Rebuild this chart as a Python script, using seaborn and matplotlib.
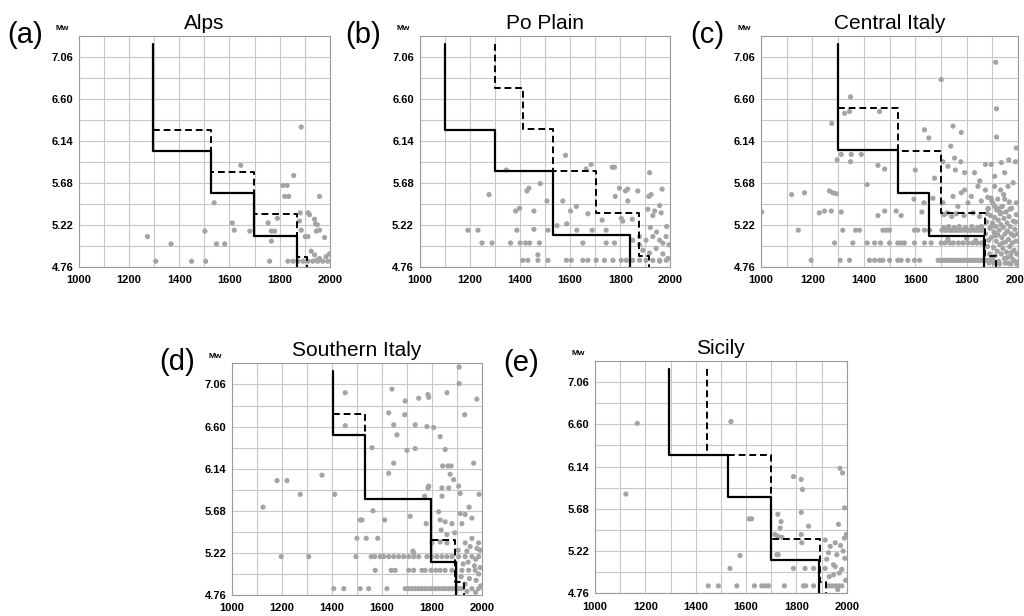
import pandas as pd
import seaborn as sns
import matplotlib.pyplot as plt

# Catalogue events (year, Mw)
alps_quakes = [
    (1886, 6.29), (1645, 5.87), (1856, 5.76), (1813, 5.65), (1830, 5.65),
    (1820, 5.53), (1836, 5.53), (1959, 5.53), (1539, 5.46), (1882, 5.35),
    (1913, 5.35), (1919, 5.33), (1939, 5.28), (1943, 5.23), (1950, 5.22),
    (1754, 5.24), (1791, 5.29), (1611, 5.24), (1619, 5.16), (1502, 5.15),
    (1681, 5.15), (1767, 5.15), (1780, 5.15), (1913, 5.09), (1946, 5.15),
    (1959, 5.16), (1979, 5.08), (1273, 5.09), (1767, 5.04), (1367, 5.01),
    (1548, 5.01), (1581, 5.01), (1902, 5.09), (1879, 5.26), (1886, 5.16),
    (1306, 4.82), (1449, 4.82), (1505, 4.82), (1760, 4.82), (1833, 4.82),
    (1853, 4.82), (1873, 4.82), (1893, 4.82), (1913, 4.82), (1932, 4.82),
    (1952, 4.82), (1972, 4.82), (1992, 4.82), (1926, 4.93), (1939, 4.89),
    (1959, 4.85), (1946, 4.83), (1985, 4.87), (1998, 4.90),
]

po_quakes = [
    (1582, 5.98), (1684, 5.88), (1664, 5.83), (1768, 5.85), (1777, 5.85),
    (1917, 5.79), (1346, 5.82), (1481, 5.67), (1436, 5.62), (1428, 5.59),
    (1277, 5.55), (1508, 5.48), (1571, 5.48), (1625, 5.42), (1399, 5.40),
    (1383, 5.37), (1456, 5.37), (1602, 5.37), (1671, 5.34), (1728, 5.27),
    (1780, 5.53), (1797, 5.62), (1821, 5.59), (1830, 5.61), (1870, 5.59),
    (1830, 5.48), (1923, 5.55), (1914, 5.53), (1967, 5.61), (1804, 5.29),
    (1810, 5.26), (1848, 5.28), (1910, 5.39), (1937, 5.37), (1963, 5.35),
    (1930, 5.32), (1957, 5.43), (1744, 5.16), (1193, 5.16), (1233, 5.16),
    (1388, 5.16), (1456, 5.17), (1512, 5.16), (1627, 5.16), (1688, 5.16),
    (1548, 5.21), (1587, 5.23), (1249, 5.02), (1289, 5.02), (1363, 5.02),
    (1401, 5.02), (1423, 5.02), (1439, 5.02), (1478, 5.02), (1651, 5.02),
    (1744, 5.02), (1777, 5.02), (1850, 5.05), (1877, 5.09), (1903, 5.05),
    (1930, 5.09), (1957, 5.05), (1983, 5.09), (1970, 5.02), (1994, 5.00),
    (1472, 4.89), (1412, 4.83), (1432, 4.83), (1472, 4.83), (1512, 4.83),
    (1585, 4.83), (1605, 4.83), (1651, 4.83), (1671, 4.83), (1704, 4.83),
    (1737, 4.83), (1771, 4.83), (1804, 4.83), (1824, 4.83), (1850, 4.83),
    (1877, 4.83), (1903, 4.83), (1930, 4.83), (1957, 4.83), (1983, 4.83),
    (1890, 4.94), (1917, 4.91), (1943, 4.96), (1970, 4.90), (1990, 4.85),
    (1877, 5.00), (1957, 4.82), (1945, 5.14), (1985, 5.20), (1920, 5.19),
]

central_quakes = [
    (1913, 7.00), (1701, 6.81), (1348, 6.62), (1325, 6.44), (1344, 6.46),
    (1461, 6.46), (1916, 6.49), (1275, 6.33), (1636, 6.26), (1747, 6.30),
    (1653, 6.17), (1779, 6.23), (1916, 6.18), (1738, 6.08), (1993, 6.06),
    (1312, 5.99), (1351, 5.99), (1390, 5.99), (1348, 5.91), (1296, 5.93),
    (1455, 5.87), (1481, 5.83), (1600, 5.82), (1675, 5.73), (1753, 5.95),
    (1777, 5.91), (1708, 5.91), (1727, 5.86), (1756, 5.82), (1792, 5.79),
    (1831, 5.79), (1851, 5.70), (1873, 5.88), (1896, 5.88), (1935, 5.90),
    (1964, 5.93), (1990, 5.91), (1909, 5.75), (1948, 5.79), (1981, 5.68),
    (1909, 5.64), (1932, 5.60), (1961, 5.64), (1844, 5.64), (1873, 5.60),
    (1792, 5.60), (1818, 5.53), (1857, 5.48), (1896, 5.51), (1948, 5.50),
    (1883, 5.39), (1909, 5.42), (1935, 5.35), (1968, 5.39), (1993, 5.46),
    (1413, 5.66), (1119, 5.55), (1169, 5.57), (1266, 5.59), (1279, 5.57),
    (1292, 5.56), (1595, 5.50), (1634, 5.46), (1669, 5.51), (1227, 5.35),
    (1247, 5.37), (1273, 5.37), (1312, 5.36), (1455, 5.32), (1481, 5.37),
    (1526, 5.37), (1545, 5.32), (1626, 5.36), (1003, 5.36), (1708, 5.46),
    (1766, 5.42), (1805, 5.46), (1747, 5.53), (1779, 5.57), (1712, 5.33),
    (1725, 5.35), (1742, 5.31), (1760, 5.34), (1790, 5.32), (1825, 5.35),
    (1850, 5.31),
    (1145, 5.16), (1318, 5.16), (1368, 5.16), (1383, 5.16), (1474, 5.16),
    (1487, 5.16), (1500, 5.16), (1597, 5.16), (1610, 5.16), (1636, 5.16),
    (1656, 5.16), (1704, 5.16), (1713, 5.16), (1721, 5.16), (1732, 5.16),
    (1740, 5.16), (1749, 5.16), (1758, 5.16), (1765, 5.16), (1776, 5.16),
    (1784, 5.16), (1793, 5.16), (1801, 5.16), (1810, 5.16), (1817, 5.16),
    (1828, 5.16), (1836, 5.16), (1845, 5.16), (1853, 5.16), (1862, 5.16),
    (1710, 5.19), (1730, 5.20), (1752, 5.19), (1771, 5.20), (1795, 5.19),
    (1820, 5.20), (1842, 5.19), (1858, 5.20),
    (1286, 5.02), (1357, 5.02), (1413, 5.02), (1442, 5.02), (1465, 5.02),
    (1500, 5.02), (1532, 5.02), (1545, 5.02), (1558, 5.02), (1597, 5.02),
    (1636, 5.02), (1662, 5.02), (1701, 5.02), (1716, 5.02), (1735, 5.02),
    (1748, 5.02), (1768, 5.02), (1786, 5.02), (1805, 5.02), (1823, 5.02),
    (1840, 5.02), (1857, 5.02), (1727, 5.06), (1800, 5.07), (1835, 5.05),
    (1195, 4.83), (1308, 4.83), (1344, 4.83), (1422, 4.83), (1442, 4.83),
    (1461, 4.83), (1474, 4.83), (1500, 4.83), (1532, 4.83), (1545, 4.83),
    (1571, 4.83), (1597, 4.83), (1617, 4.83), (1689, 4.83), (1697, 4.83),
    (1706, 4.83), (1716, 4.83), (1724, 4.83), (1733, 4.83), (1743, 4.83),
    (1751, 4.83), (1760, 4.83), (1769, 4.83), (1778, 4.83), (1787, 4.83),
    (1795, 4.83), (1805, 4.83), (1813, 4.83), (1822, 4.83), (1831, 4.83),
    (1840, 4.83), (1848, 4.83), (1857, 4.83), (1866, 4.83), (1875, 4.83),
    (1884, 4.83), (1893, 4.83), (1902, 4.83),
    (1874, 5.12), (1878, 5.25), (1881, 4.98), (1884, 5.40), (1886, 5.05),
    (1889, 4.90), (1891, 5.18), (1893, 5.32), (1896, 5.08), (1898, 4.86),
    (1901, 5.24), (1903, 5.45), (1905, 4.97), (1907, 5.14), (1909, 5.30),
    (1911, 4.88), (1913, 5.20), (1915, 5.04), (1917, 5.38), (1919, 4.93),
    (1921, 5.11), (1923, 5.27), (1925, 4.82), (1927, 5.16), (1929, 5.00),
    (1931, 5.34), (1933, 5.22), (1935, 4.90), (1937, 5.08), (1939, 5.42),
    (1941, 4.96), (1943, 5.19), (1945, 5.29), (1947, 4.85), (1949, 5.12),
    (1951, 5.03), (1953, 5.36), (1955, 4.92), (1957, 5.24), (1959, 5.15),
    (1961, 4.80), (1963, 5.06), (1965, 5.31), (1967, 4.98), (1969, 5.20),
    (1971, 4.88), (1973, 5.12), (1975, 5.40), (1977, 5.02), (1979, 4.84),
    (1981, 5.26), (1983, 5.10), (1985, 4.94), (1987, 5.17), (1989, 4.82),
    (1991, 5.04), (1993, 5.33), (1995, 4.90), (1997, 5.12), (1882, 5.52),
    (1898, 5.48), (1921, 5.50), (1944, 5.55), (1966, 5.47), (1887, 4.80),
    (1906, 4.80), (1928, 4.79), (1950, 4.80), (1972, 4.79), (1995, 4.79),
    (1880, 5.34), (1895, 5.20), (1912, 5.10), (1926, 5.40), (1940, 5.02),
    (1958, 4.86), (1975, 4.92), (1990, 5.25),
]

southern_quakes = [
    (1909, 7.25), (1640, 7.01), (1909, 7.07), (1453, 6.97), (1784, 6.95),
    (1787, 6.92), (1747, 6.91), (1860, 6.97), (1693, 6.88), (1980, 6.90),
    (1627, 6.75), (1691, 6.73), (1931, 6.73), (1453, 6.61), (1647, 6.62),
    (1733, 6.62), (1780, 6.60), (1807, 6.59), (1660, 6.51), (1833, 6.49),
    (1560, 6.37), (1700, 6.34), (1733, 6.36), (1853, 6.35), (1647, 6.20),
    (1843, 6.17), (1864, 6.17), (1877, 6.17), (1967, 6.20), (1627, 6.09),
    (1360, 6.07), (1180, 6.01), (1220, 6.01), (1873, 6.08), (1887, 6.02),
    (1787, 5.95), (1784, 5.93), (1840, 5.93), (1867, 5.93), (1907, 5.95),
    (1273, 5.86), (1411, 5.86), (1771, 5.84), (1840, 5.84), (1913, 5.87),
    (1989, 5.86), (1124, 5.72), (1564, 5.68), (1713, 5.62), (1827, 5.67),
    (1949, 5.72), (1913, 5.65), (1933, 5.64), (1960, 5.60), (1513, 5.58),
    (1520, 5.58), (1611, 5.58), (1777, 5.54), (1833, 5.58), (1853, 5.56),
    (1880, 5.54), (1920, 5.54), (1837, 5.47), (1860, 5.42), (1891, 5.44),
    (1500, 5.38), (1537, 5.38), (1583, 5.38), (1800, 5.33), (1833, 5.34),
    (1860, 5.33), (1960, 5.38), (1987, 5.33), (1933, 5.33), (1953, 5.29),
    (1980, 5.27), (1993, 5.25), (1727, 5.22), (1724, 5.24),
    (1197, 5.18), (1307, 5.18), (1496, 5.18), (1557, 5.18), (1571, 5.18),
    (1593, 5.18), (1607, 5.18), (1627, 5.18), (1647, 5.18), (1667, 5.18),
    (1687, 5.18), (1707, 5.18), (1727, 5.18), (1747, 5.18), (1780, 5.18),
    (1800, 5.18), (1820, 5.18), (1840, 5.18), (1860, 5.18), (1880, 5.18),
    (1907, 5.18), (1933, 5.18), (1960, 5.18), (1987, 5.18),
    (1573, 5.03), (1637, 5.03), (1653, 5.03), (1707, 5.03), (1727, 5.03),
    (1760, 5.03), (1773, 5.03), (1797, 5.03), (1816, 5.03), (1833, 5.03),
    (1853, 5.03), (1880, 5.03), (1920, 5.03), (1947, 5.03), (1973, 5.03),
    (1917, 4.96), (1950, 4.94), (1977, 4.92), (1933, 4.88), (1987, 4.99),
    (1925, 5.10), (1945, 5.12), (1970, 5.08), (1993, 5.06), (1905, 5.25),
    (1940, 5.24), (1975, 5.15),
    (1407, 4.83), (1447, 4.83), (1513, 4.83), (1547, 4.83), (1620, 4.83),
    (1693, 4.83), (1707, 4.83), (1720, 4.83), (1733, 4.83), (1747, 4.83),
    (1760, 4.83), (1773, 4.83), (1787, 4.83), (1800, 4.83), (1813, 4.83),
    (1827, 4.83), (1840, 4.83), (1853, 4.83), (1867, 4.83), (1880, 4.83),
    (1893, 4.83), (1907, 4.83), (1920, 4.83), (1960, 4.83), (1987, 4.83),
    (1940, 4.80), (1975, 4.79), (1995, 4.86),
]

sicily_quakes = [
    (1168, 6.61), (1540, 6.63), (1123, 5.84), (1788, 6.03), (1819, 6.00),
    (1824, 5.89), (1973, 6.12), (1983, 6.07), (1612, 5.57), (1622, 5.57),
    (1726, 5.62), (1739, 5.54), (1819, 5.64), (1848, 5.49), (1967, 5.51),
    (1991, 5.69), (1735, 5.47), (1715, 5.40), (1726, 5.38), (1742, 5.37),
    (1819, 5.40), (1821, 5.31), (1914, 5.34), (1934, 5.27), (1954, 5.31),
    (1927, 5.20), (1960, 5.18), (1920, 5.13), (1947, 5.07), (1722, 5.18),
    (1728, 5.18), (1576, 5.17), (1536, 5.03), (1788, 5.03), (1834, 5.03),
    (1868, 5.03), (1914, 5.03), (1954, 5.05), (1980, 5.02), (1450, 4.84),
    (1490, 4.84), (1563, 4.84), (1633, 4.84), (1662, 4.84), (1675, 4.84),
    (1689, 4.84), (1752, 4.84), (1828, 4.84), (1837, 4.84), (1868, 4.84),
    (1927, 4.84), (1940, 4.84), (1954, 4.84), (1967, 4.84), (1980, 4.84),
    (1930, 4.94), (1947, 4.96), (1964, 4.80), (1975, 5.28), (1990, 5.36),
    (1998, 5.40), (1985, 5.22), (1992, 5.14), (1970, 4.98), (1995, 4.90),
]

# Completeness thresholds: breakpoint years and Mw levels (drawn as steps)
alps_solid_x = [1297, 1297, 1527, 1698, 1869]
alps_solid_y = [7.20, 6.03, 5.57, 5.10, 4.76]
alps_dash_x = [1297, 1527, 1698, 1869, 1910]
alps_dash_y = [6.26, 5.80, 5.34, 4.87, 4.76]

po_solid_x = [1101, 1101, 1299, 1532, 1840]
po_solid_y = [7.20, 6.26, 5.81, 5.11, 4.76]
po_dash_x = [1299, 1299, 1413, 1532, 1702, 1874, 1914]
po_dash_y = [7.20, 6.72, 6.27, 5.81, 5.35, 4.88, 4.76]

central_solid_x = [1301, 1301, 1532, 1652, 1868]
central_solid_y = [7.20, 6.04, 5.57, 5.10, 4.76]
central_dash_x = [1301, 1532, 1701, 1870, 1916]
central_dash_y = [6.50, 6.03, 5.35, 4.88, 4.76]

southern_solid_x = [1403, 1403, 1531, 1795, 1897]
southern_solid_y = [7.21, 6.51, 5.81, 5.12, 4.76]
southern_dash_x = [1403, 1531, 1795, 1892, 1927]
southern_dash_y = [6.74, 5.81, 5.36, 4.90, 4.76]

sicily_solid_x = [1294, 1294, 1527, 1698, 1890]
sicily_solid_y = [7.20, 6.27, 5.81, 5.12, 4.76]
sicily_dash_x = [1445, 1445, 1698, 1894, 1917]
sicily_dash_y = [7.20, 6.27, 5.35, 4.88, 4.76]

titles = ["Alps", "Po Plain", "Central Italy", "Southern Italy", "Sicily"]
letters = ["(a)", "(b)", "(c)", "(d)", "(e)"]
mw_ticks = [4.76, 5.22, 5.68, 6.14, 6.60, 7.06]
mw_minor = [4.99, 5.45, 5.91, 6.37, 6.83]

panels = [
    (alps_quakes, alps_solid_x, alps_solid_y, alps_dash_x, alps_dash_y),
    (po_quakes, po_solid_x, po_solid_y, po_dash_x, po_dash_y),
    (central_quakes, central_solid_x, central_solid_y, central_dash_x, central_dash_y),
    (southern_quakes, southern_solid_x, southern_solid_y, southern_dash_x, southern_dash_y),
    (sicily_quakes, sicily_solid_x, sicily_solid_y, sicily_dash_x, sicily_dash_y),
]

sns.set_style("white")
plt.rcParams["font.family"] = ["Liberation Sans", "DejaVu Sans"]
plt.rcParams["text.color"] = "black"
plt.rcParams["xtick.color"] = "black"
plt.rcParams["ytick.color"] = "black"

fig = plt.figure(figsize=(10.24, 6.16), dpi=100)

# axes boxes (left, bottom, width, height) and panel-letter anchors
boxes = [
    (0.0771, 0.567, 0.245, 0.375),
    (0.4097, 0.567, 0.245, 0.375),
    (0.7432, 0.567, 0.251, 0.375),
    (0.2266, 0.034, 0.244, 0.376),
    (0.5810, 0.037, 0.246, 0.377),
]
letter_pos = [(0.007, 0.943), (0.337, 0.943), (0.674, 0.943),
              (0.156, 0.412), (0.491, 0.411)]

for (quakes, sx, sy, dx, dy), title, letter, box, lpos in zip(
        panels, titles, letters, boxes, letter_pos):
    ax = fig.add_axes(box)
    ax.set_axisbelow(True)
    df = pd.DataFrame(quakes, columns=["year", "Mw"])
    sns.scatterplot(data=df, x="year", y="Mw", color="#a4a4a4", s=14,
                    edgecolor="none", ax=ax, zorder=2)
    sns.lineplot(x=dx, y=dy, drawstyle="steps-post", estimator=None, sort=False,
                 color="black", lw=1.4, linestyle=(0, (3.5, 2)), ax=ax, zorder=3)
    sns.lineplot(x=sx, y=sy, drawstyle="steps-post", estimator=None, sort=False,
                 color="black", lw=1.6, ax=ax, zorder=4)

    ax.set_xlim(1000, 2000)
    ax.set_ylim(4.76, 7.29)
    ax.set_xticks(range(1000, 2001, 200))
    ax.set_xticks(range(1100, 2000, 200), minor=True)
    ax.set_yticks(mw_ticks)
    ax.set_yticklabels([f"{v:.2f}" for v in mw_ticks])
    ax.set_yticks(mw_minor, minor=True)
    ax.grid(which="both", color="#c8c8c8", lw=0.8)
    ax.tick_params(which="both", length=0)
    ax.tick_params(axis="y", pad=4)
    ax.tick_params(axis="x", pad=6)
    for lab in ax.get_xticklabels() + ax.get_yticklabels():
        lab.set_fontweight("bold")
        lab.set_fontsize(8)
    ax.set_xlabel("")
    ax.set_ylabel("")
    for sp in ax.spines.values():
        sp.set_color("#9a9a9a")
        sp.set_linewidth(0.8)

    ax.set_title(title, fontsize=15, pad=5, color="black")
    ax.text(-0.04, 1.015, "Mw", transform=ax.transAxes, ha="right", va="bottom",
            fontsize=6, fontweight="bold")
    fig.text(lpos[0], lpos[1], letter, fontsize=21, va="center", ha="left")

fig.savefig("out.png", dpi=100)
